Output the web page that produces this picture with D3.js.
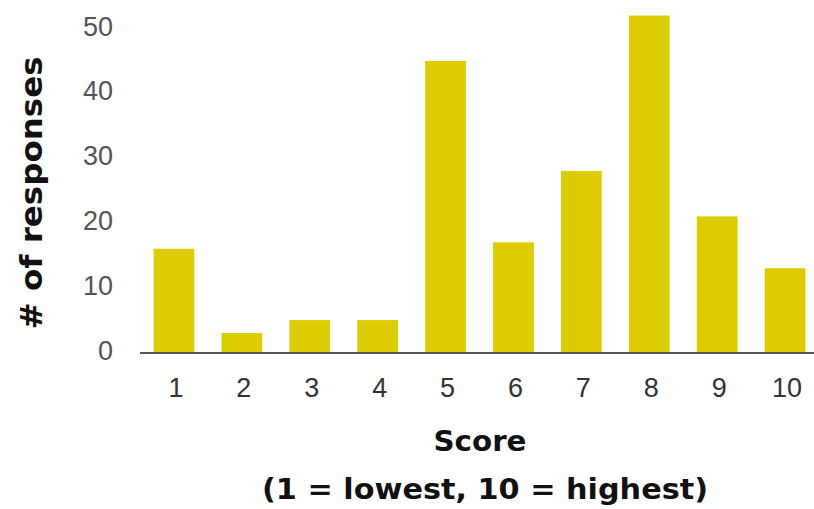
<!DOCTYPE html>
<html>
<head>
<meta charset="utf-8">
<script src="https://cdn.jsdelivr.net/npm/d3@7"></script>
<style>
  html, body { margin: 0; padding: 0; background: #fff; }
  svg { display: block; }
</style>
</head>
<body>
<svg id="chart" width="814" height="509"></svg>
<script>
// Survey score distribution
const scores = ["1", "2", "3", "4", "5", "6", "7", "8", "9", "10"];
const responses = [16, 3, 5, 5, 45, 17, 28, 52, 21, 13];
const yTicks = [0, 10, 20, 30, 40, 50];
const yTitle = "# of responses";
const xTitle = "Score";
const xSubtitle = "(1 = lowest, 10 = highest)";

const svg = d3.select("#chart");
const W = 814;

const x = d3.scaleBand()
  .domain(scores)
  .range([140, 819])
  .paddingInner(0.4)
  .paddingOuter(0.2);

const y = d3.scaleLinear()
  .domain([0, 50])
  .range([352.5, 28.5]);

// bars
svg.append("g")
  .selectAll("rect")
  .data(scores.map((s, i) => ({ s, v: responses[i] })))
  .join("rect")
  .attr("x", d => x(d.s))
  .attr("y", d => y(d.v))
  .attr("width", x.bandwidth())
  .attr("height", d => y(0) - y(d.v))
  .attr("fill", "#dccc00");

// baseline
svg.append("line")
  .attr("x1", 140).attr("x2", W)
  .attr("y1", y(0) + 0.5).attr("y2", y(0) + 0.5)
  .attr("stroke", "#555")
  .attr("stroke-width", 2);

// y tick labels
const yAxis = d3.axisLeft(y).tickValues(yTicks).tickSize(0).tickPadding(0);
const gy = svg.append("g").attr("transform", "translate(113,-2)").call(yAxis);
gy.select(".domain").remove();
gy.selectAll("text")
  .attr("font-family", "'Liberation Sans', Arial, sans-serif")
  .attr("font-size", 27)
  .attr("fill", "#555");

// x tick labels
const xAxis = d3.axisBottom(x).tickSize(0).tickPadding(0);
const gx = svg.append("g").attr("transform", "translate(2,378)").call(xAxis);
gx.select(".domain").remove();
gx.selectAll("text")
  .attr("dy", "0.72em")
  .attr("font-family", "'Liberation Sans', Arial, sans-serif")
  .attr("font-size", 27)
  .attr("fill", "#333");

// axis titles
const titleFont = "'DejaVu Sans', Verdana, Tahoma, sans-serif";

svg.append("text")
  .attr("transform", "translate(42,193) rotate(-90)")
  .attr("text-anchor", "middle")
  .attr("font-family", titleFont)
  .attr("font-weight", "bold")
  .attr("font-size", 30)
  .attr("textLength", 273)
  .attr("lengthAdjust", "spacingAndGlyphs")
  .attr("fill", "#111")
  .text(yTitle);

svg.append("text")
  .attr("x", 480).attr("y", 451)
  .attr("text-anchor", "middle")
  .attr("font-family", titleFont)
  .attr("font-weight", "bold")
  .attr("font-size", 29)
  .attr("textLength", 93)
  .attr("lengthAdjust", "spacingAndGlyphs")
  .attr("fill", "#111")
  .text(xTitle);

svg.append("text")
  .attr("x", 485).attr("y", 499)
  .attr("text-anchor", "middle")
  .attr("font-family", titleFont)
  .attr("font-weight", "bold")
  .attr("font-size", 29)
  .attr("textLength", 446)
  .attr("lengthAdjust", "spacingAndGlyphs")
  .attr("fill", "#111")
  .text(xSubtitle);
</script>
</body>
</html>
